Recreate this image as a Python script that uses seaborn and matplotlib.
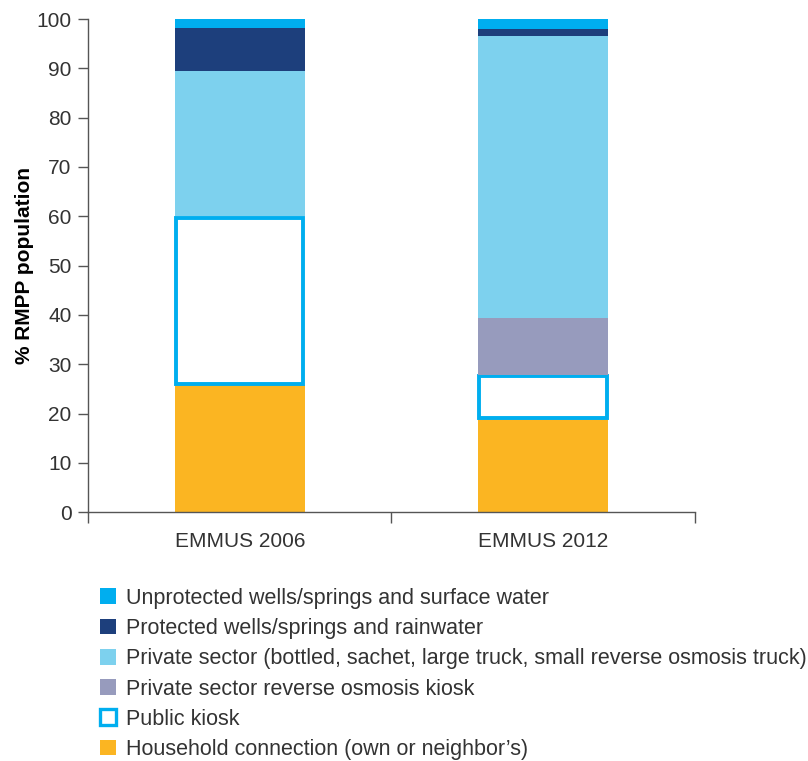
import numpy as np
import matplotlib
matplotlib.use("Agg")
import matplotlib.pyplot as plt
from matplotlib.patches import Patch
import seaborn as sns

# data
surveys = ["EMMUS 2006", "EMMUS 2012"]
household = [25.8, 18.9]
public_kiosk = [34.2, 8.9]
ro_kiosk = [0.0, 11.6]
private_sector = [29.4, 57.1]
protected = [8.8, 1.5]
unprotected = [1.8, 2.0]

labels = [
    "Household connection (own or neighbor\u2019s)",
    "Public kiosk",
    "Private sector reverse osmosis kiosk",
    "Private sector (bottled, sachet, large truck, small reverse osmosis truck)",
    "Protected wells/springs and rainwater",
    "Unprotected wells/springs and surface water",
]
series = [household, public_kiosk, ro_kiosk, private_sector, protected, unprotected]
colours = ["#FBB522", "white", "#979BBD", "#7DD1EE", "#1D3F7C", "#00AEEF"]
edges = [None, "#00AEEF", None, None, None, None]

sns.set_style("white")
plt.rcParams["font.family"] = ["Liberation Sans", "DejaVu Sans"]
text_col = "#333333"

fig = plt.figure(figsize=(8.08, 7.61), dpi=100)
ax = fig.add_axes([0.109, 0.327, 0.751, 0.648])

x = np.arange(len(surveys))
bottom = np.zeros(len(surveys))
handles = []
for vals, col, ec, lab in zip(series, colours, edges, labels):
    vals = np.array(vals)
    if ec is None:
        ax.bar(x, vals, 0.43, bottom=bottom, color=col, linewidth=0)
        handles.append(Patch(facecolor=col, edgecolor="none", label=lab))
    else:
        ax.bar(x, vals - 0.5, 0.43 - 0.01, bottom=bottom + 0.25, color=col,
               edgecolor=ec, linewidth=2.8)
        handles.append(Patch(facecolor=col, edgecolor=ec, linewidth=2.4, label=lab))
    bottom += vals

ax.set_xlim(-0.5, 1.5)
ax.set_ylim(0, 100)
ax.set_yticks(range(0, 101, 10))
ax.set_xticks([-0.5, 0.5, 1.5], minor=False)
ax.set_xticklabels([])
ax.set_xticks(x, minor=True)
ax.set_xticklabels(surveys, minor=True)
ax.tick_params(axis="x", which="minor", bottom=False, length=0, pad=14,
               labelsize=15, labelcolor=text_col)
ax.tick_params(axis="x", which="major", bottom=True, length=8, width=1,
               color="#555555", direction="out")
ax.tick_params(axis="y", left=True, length=7, width=1, color="#555555", direction="out",
               labelsize=15, labelcolor=text_col, pad=5)
sns.despine(ax=ax)
for s in ["left", "bottom"]:
    ax.spines[s].set_color("#555555")
    ax.spines[s].set_linewidth(1)
ax.set_ylabel("% RMPP population", fontsize=15, fontweight="bold", color="black", labelpad=1.5)

fig.legend(handles=handles[::-1], loc="upper left", bbox_to_anchor=(0.113, 0.239),
           frameon=False, fontsize=15.5, handlelength=0.75, handleheight=0.75,
           handletextpad=0.45, labelspacing=0.43, labelcolor=text_col, borderaxespad=0)

fig.savefig("out.png", dpi=100)
